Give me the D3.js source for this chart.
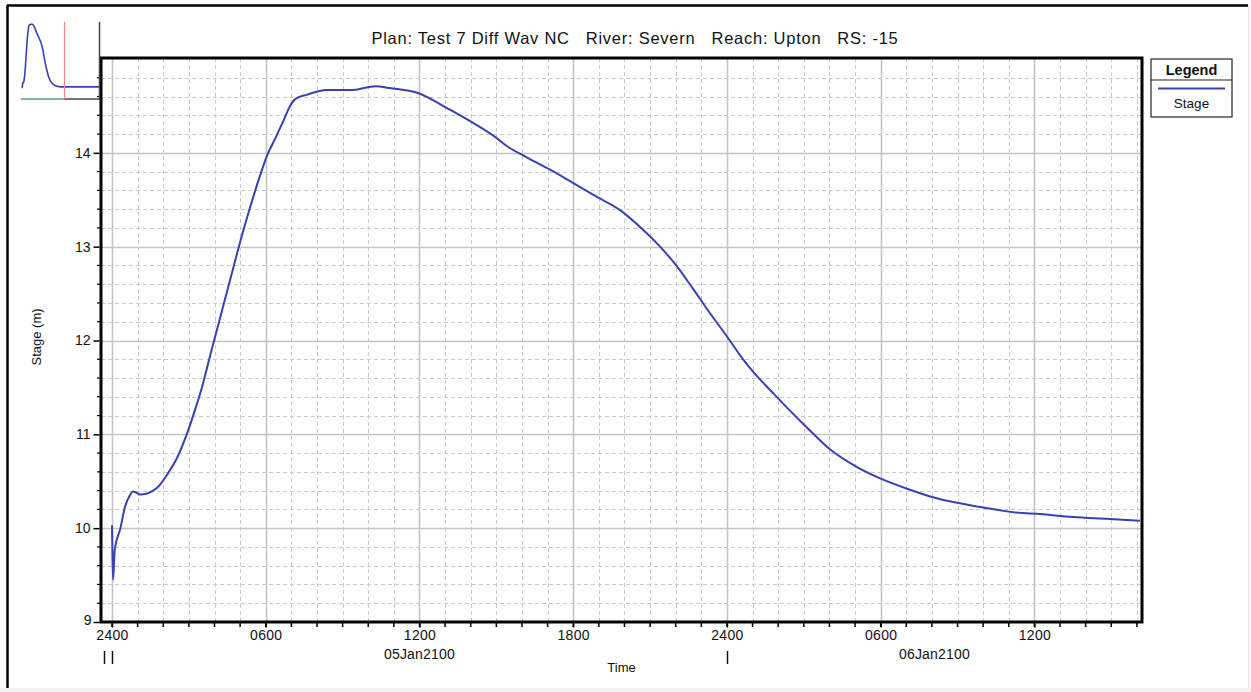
<!DOCTYPE html>
<html>
<head>
<meta charset="utf-8">
<script src="https://cdn.jsdelivr.net/npm/d3@7"></script>
<style>
  html, body { margin: 0; padding: 0; background: #ffffff; }
  svg { display: block; font-family: "Liberation Sans", Arial, sans-serif; }
</style>
</head>
<body>
<svg id="chart" width="1251" height="692"></svg>
<script>
// ---------------- DATA ----------------
const titleText = "Plan: Test 7 Diff Wav NC   River: Severn   Reach: Upton   RS: -15";
// hours after 05Jan2100 0000 (shown as "2400" of 04Jan)
const hours = [0, 0.01, 0.04, 0.1, 0.16, 0.31, 0.51, 0.70, 0.82, 0.94, 1.09, 1.37, 1.76, 2.15, 2.54, 2.93,
  3.32, 3.51, 3.83, 4.14, 4.68, 5.0, 5.39, 5.78, 6.05, 6.40, 6.67, 6.95, 7.14, 7.61, 8.39, 9.41, 10.27,
  10.85, 12.02, 12.8, 13.19, 14.09, 14.95, 15.42, 16.2, 17.1, 17.99, 18.93, 19.83, 20.61, 21.39, 22.05,
  22.68, 23.34, 24.01, 24.63, 25.21, 25.8, 26.47, 27.13, 28.02, 29.08, 29.98, 31.03, 32.04, 32.98, 34.0, 35.17,
  36.22, 37.51, 38.84, 40.12];
const stage = [10.03, 9.85, 9.45, 9.75, 9.85, 9.98, 10.23, 10.35, 10.39, 10.38, 10.36, 10.37, 10.43, 10.57, 10.75, 11.01,
  11.33, 11.5, 11.84, 12.16, 12.72, 13.05, 13.42, 13.76, 13.97, 14.17, 14.33, 14.5, 14.57, 14.62, 14.67, 14.67, 14.71,
  14.69, 14.63, 14.52, 14.46, 14.32, 14.17, 14.07, 13.95, 13.82, 13.68, 13.53, 13.39, 13.21, 13.0, 12.79,
  12.55, 12.29, 12.04, 11.8, 11.61, 11.44, 11.25, 11.07, 10.84, 10.65, 10.53, 10.42, 10.33, 10.27, 10.22, 10.17,
  10.15, 10.12, 10.1, 10.08];
const timeDomain = [-0.43, 40.2];
const stageDomain = [9, 15];
const yTickValues = [9, 10, 11, 12, 13, 14];
const xTickHours = [0, 6, 12, 18, 24, 30, 36];
const xTickLabels = ["2400", "0600", "1200", "1800", "2400", "0600", "1200"];
const days = [
  { label: "05Jan2100", start: 0, end: 24 },
  { label: "06Jan2100", start: 24, end: 48 }
];
const dayMarkers = [-0.33, 0, 24];
const seriesName = "Stage";
const yLabel = "Stage (m)";
const xLabel = "Time";

// ---------------- LAYOUT ----------------
const svg = d3.select("#chart");
const W = 1251, H = 692;
const plot = { left: 101, right: 1142, top: 58, bottom: 622 };
const lineColor = "#3a40b4";
const gridColor = "#c9c9c9";
const FONT = "Liberation Sans, Arial, sans-serif";

const x = d3.scaleLinear().domain(timeDomain).range([plot.left, plot.right]);
const y = d3.scaleLinear().domain(stageDomain).range([plot.bottom, 59]);

// page background & outer frame
svg.append("rect").attr("x", 0).attr("y", 0).attr("width", W).attr("height", H).attr("fill", "#ffffff");
svg.append("rect").attr("x", 0).attr("y", 688).attr("width", W).attr("height", 4).attr("fill", "#f3f3f3");
svg.append("line").attr("x1", 7).attr("x2", 1248).attr("y1", 5.5).attr("y2", 5.5).attr("stroke", "#000").attr("stroke-width", 2.5);
svg.append("line").attr("x1", 7.5).attr("x2", 7.5).attr("y1", 5).attr("y2", 688).attr("stroke", "#000").attr("stroke-width", 2.5);
svg.append("line").attr("x1", 1248.5).attr("x2", 1248.5).attr("y1", 5).attr("y2", 688).attr("stroke", "#e4e4e4").attr("stroke-width", 1);

// ---------------- GRID ----------------
const grid = svg.append("g");
const hourLines = d3.range(Math.ceil(timeDomain[0]), Math.floor(timeDomain[1]) + 1);
grid.selectAll("line.vminor").data(hourLines.filter(h => h % 6 !== 0)).enter().append("line")
  .attr("x1", d => Math.round(x(d)) + 0.5).attr("x2", d => Math.round(x(d)) + 0.5)
  .attr("y1", plot.top).attr("y2", plot.bottom)
  .attr("stroke", gridColor).attr("stroke-width", 1).attr("stroke-dasharray", "4,3");
const minorStage = d3.range(9.2, 15.0, 0.2).filter(v => Math.abs(v - Math.round(v)) > 0.05);
grid.selectAll("line.hminor").data(minorStage).enter().append("line")
  .attr("x1", plot.left).attr("x2", plot.right)
  .attr("y1", d => Math.round(y(d)) + 0.5).attr("y2", d => Math.round(y(d)) + 0.5)
  .attr("stroke", gridColor).attr("stroke-width", 1).attr("stroke-dasharray", "4,3");
grid.selectAll("line.vmajor").data(hourLines.filter(h => h % 6 === 0)).enter().append("line")
  .attr("x1", d => Math.round(x(d)) + 0.5).attr("x2", d => Math.round(x(d)) + 0.5)
  .attr("y1", plot.top).attr("y2", plot.bottom)
  .attr("stroke", "#c4c4c4").attr("stroke-width", 1.6);
grid.selectAll("line.hmajor").data(d3.range(10, 15)).enter().append("line")
  .attr("x1", plot.left).attr("x2", plot.right)
  .attr("y1", d => Math.round(y(d)) + 0.5).attr("y2", d => Math.round(y(d)) + 0.5)
  .attr("stroke", "#c4c4c4").attr("stroke-width", 1.6);

// ---------------- SERIES ----------------
const data = hours.map((h, i) => ({ h, v: stage[i] }));
const line = d3.line().x(d => x(d.h)).y(d => y(d.v)).curve(d3.curveMonotoneX);
svg.append("defs").append("clipPath").attr("id", "clip").append("rect")
  .attr("x", plot.left).attr("y", plot.top).attr("width", plot.right - plot.left).attr("height", plot.bottom - plot.top);
svg.append("path").datum(data).attr("clip-path", "url(#clip)")
  .attr("d", line).attr("fill", "none").attr("stroke", lineColor).attr("stroke-width", 2)
  .attr("stroke-linejoin", "round");

// ---------------- FRAME ----------------
svg.append("rect").attr("x", plot.left).attr("y", plot.top)
  .attr("width", plot.right - plot.left).attr("height", plot.bottom - plot.top)
  .attr("fill", "none").attr("stroke", "#000").attr("stroke-width", 3);

// ---------------- AXES ----------------
const yAxisG = svg.append("g").attr("transform", `translate(${plot.left - 1.5},0)`)
  .call(d3.axisLeft(y).tickValues(yTickValues).tickFormat(d3.format("d")).tickSize(6).tickPadding(3));
yAxisG.select(".domain").remove();
yAxisG.selectAll("text").attr("font-size", 14).attr("fill", "#111").attr("font-family", FONT);
yAxisG.selectAll("line").attr("stroke", "#000").attr("stroke-width", 1.5);
yAxisG.selectAll(".tick").filter(d => d === 9).select("text").attr("dy", "0.2em").attr("x", -8);
// minor y ticks
svg.append("g").selectAll("line").data(minorStage).enter().append("line")
  .attr("x1", plot.left - 4).attr("x2", plot.left)
  .attr("y1", d => y(d)).attr("y2", d => y(d)).attr("stroke", "#000").attr("stroke-width", 1.2);

// x hourly ticks
svg.append("g").selectAll("line").data(hourLines).enter().append("line")
  .attr("x1", d => x(d)).attr("x2", d => x(d))
  .attr("y1", plot.bottom).attr("y2", plot.bottom + 5)
  .attr("stroke", "#000").attr("stroke-width", 1.5);
const xAxisG = svg.append("g").attr("transform", `translate(0,${plot.bottom + 1.5})`)
  .call(d3.axisBottom(x).tickValues(xTickHours).tickFormat((d, i) => xTickLabels[i]).tickSize(4).tickPadding(3));
xAxisG.select(".domain").remove();
xAxisG.selectAll("line").attr("stroke", "#000").attr("stroke-width", 1.5);
xAxisG.selectAll("text").attr("font-size", 14).attr("fill", "#111").attr("font-family", FONT)
  .attr("letter-spacing", 0.3);

// day labels centred on visible part of each day
svg.append("g").selectAll("text").data(days).enter().append("text")
  .attr("x", d => x((Math.max(d.start, timeDomain[0]) + Math.min(d.end, timeDomain[1])) / 2))
  .attr("y", 659).attr("text-anchor", "middle").attr("font-size", 14).attr("fill", "#111")
  .attr("letter-spacing", 0.2).text(d => d.label);
// day boundary markers
svg.append("g").selectAll("line").data(dayMarkers).enter().append("line")
  .attr("x1", d => Math.round(x(d)) + 0.5).attr("x2", d => Math.round(x(d)) + 0.5)
  .attr("y1", 651).attr("y2", 664).attr("stroke", "#111").attr("stroke-width", 1.5);

// axis titles
svg.append("text").attr("x", (plot.left + plot.right) / 2).attr("y", 672)
  .attr("text-anchor", "middle").attr("font-size", 13).attr("fill", "#111").text(xLabel);
svg.append("text").attr("transform", `translate(41,${(plot.top + plot.bottom) / 2 - 3}) rotate(-90)`)
  .attr("text-anchor", "middle").attr("font-size", 13).attr("fill", "#111").text(yLabel);

// title
svg.append("text").attr("x", 635).attr("y", 44).attr("text-anchor", "middle")
  .attr("font-size", 16.5).attr("fill", "#111").attr("letter-spacing", 0.75)
  .style("white-space", "pre").text(titleText);

// ---------------- LEGEND ----------------
const lg = svg.append("g");
lg.append("rect").attr("x", 1151).attr("y", 59).attr("width", 81).attr("height", 58)
  .attr("fill", "#fff").attr("stroke", "#222").attr("stroke-width", 1.2);
lg.append("line").attr("x1", 1151).attr("x2", 1232).attr("y1", 80).attr("y2", 80).attr("stroke", "#222").attr("stroke-width", 1.2);
lg.append("text").attr("x", 1191.5).attr("y", 75).attr("text-anchor", "middle")
  .attr("font-size", 14.5).attr("font-weight", "bold").attr("fill", "#111").text("Legend");
lg.append("line").attr("x1", 1158).attr("x2", 1225).attr("y1", 88.5).attr("y2", 88.5)
  .attr("stroke", lineColor).attr("stroke-width", 2);
lg.append("text").attr("x", 1191.5).attr("y", 108).attr("text-anchor", "middle")
  .attr("font-size", 13.5).attr("fill", "#111").text(seriesName);

// ---------------- THUMBNAIL (overview) ----------------
const tx = d3.scaleLinear().domain([0, 40.12]).range([22, 60]);
const ty = d3.scaleLinear().domain([10.0, 14.71]).range([88, 24]);
const th = svg.append("g");
th.append("path").datum(data.slice(5)).attr("d", d3.line().x(d => tx(d.h)).y(d => ty(d.v)).curve(d3.curveMonotoneX))
  .attr("fill", "none").attr("stroke", lineColor).attr("stroke-width", 1.6);
th.append("line").attr("x1", tx(hours[hours.length - 1])).attr("x2", 100)
  .attr("y1", ty(stage[stage.length - 1])).attr("y2", ty(stage[stage.length - 1]))
  .attr("stroke", lineColor).attr("stroke-width", 1.6);
th.append("line").attr("x1", 21).attr("x2", 64).attr("y1", 99).attr("y2", 99).attr("stroke", "#4f9a94").attr("stroke-width", 1.5);
th.append("line").attr("x1", 64).attr("x2", 100).attr("y1", 99).attr("y2", 99).attr("stroke", "#444").attr("stroke-width", 1.5);
th.append("line").attr("x1", 64.5).attr("x2", 64.5).attr("y1", 22).attr("y2", 99).attr("stroke", "#f08a8a").attr("stroke-width", 1.2);
th.append("line").attr("x1", 99.5).attr("x2", 99.5).attr("y1", 22).attr("y2", 99).attr("stroke", "#444").attr("stroke-width", 1.5);
</script>
</body>
</html>
